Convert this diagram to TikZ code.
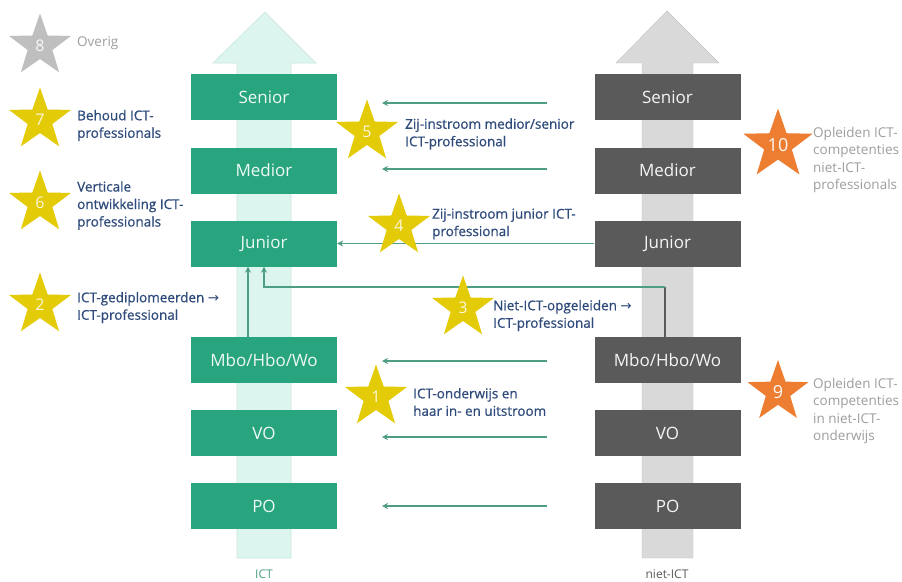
\documentclass[tikz,border=0pt]{standalone}
\usepackage{fontspec}
\setmainfont{Open Sans}
\newfontfamily\semifont[FakeBold=0.7]{Open Sans}
\newfontfamily\arrowfont{DejaVu Sans}
\usetikzlibrary{shapes.geometric,arrows.meta}
\definecolor{mint}{HTML}{DCF5EE}
\definecolor{mintline}{HTML}{C9E7DD}
\definecolor{boxgreen}{HTML}{28A57E}
\definecolor{boxgray}{HTML}{5A5A5A}
\definecolor{arrgray}{HTML}{D9D9D9}
\definecolor{conngreen}{HTML}{4E9E86}
\definecolor{staryellow}{HTML}{E3CB08}
\definecolor{starorange}{HTML}{ED7D31}
\definecolor{stargray}{HTML}{BFBFBF}
\definecolor{txtblue}{HTML}{2F4B7C}
\definecolor{txtgray}{HTML}{9E9E9E}
\newcommand{\ra}{{\arrowfont →}}
\tikzset{
  lvl/.style={rectangle, minimum width=146pt, minimum height=46pt, inner sep=0pt, font=\fontsize{17}{17}\selectfont},
  greenlvl/.style={lvl, fill=boxgreen, text=white!92!boxgreen},
  graylvl/.style={lvl, fill=boxgray, text=white!94!boxgray},
  starnode/.style={star, star points=5, star point ratio=2.5, minimum size=65pt, inner sep=0pt, text=white, font=\fontsize{16}{16}\selectfont},
  ystar/.style={starnode, fill=staryellow, text=white!85!staryellow},
  ostar/.style={starnode, fill=starorange, text=white!95!starorange, minimum size=71pt, font=\fontsize{18}{18}\selectfont},
  gstar/.style={starnode, fill=stargray, text=white!90!stargray},
  lbl/.style={align=left, anchor=west, inner sep=0pt, text=txtblue, font=\semifont\fontsize{13.5}{17.5}\selectfont},
  glbl/.style={align=left, anchor=west, inner sep=0pt, text=txtgray, font=\fontsize{13.5}{17.5}\selectfont},
  conn/.style={draw=conngreen, line width=1.8pt, -{Stealth[length=6pt,width=6pt]}},
}
\begin{document}
\begin{tikzpicture}[x=1pt,y=-1pt]
\useasboundingbox (0,0) rectangle (902,581);
\fill[white] (0,0) rectangle (902,581);
% big arrows
\filldraw[fill=mint, draw=mintline, line width=0.6pt]
  (237,558) -- (237,63) -- (213,63) -- (265,12) -- (316,63) -- (291,63) -- (291,558) -- cycle;
\filldraw[fill=arrgray, draw=arrgray!90!black, line width=0.4pt]
  (642,558) -- (642,63) -- (616,63) -- (667,11) -- (719,63) -- (693,63) -- (693,558) -- cycle;
\node[text=conngreen, font=\fontsize{12}{12}\selectfont] (ictlab) at (264,574) {ICT};
\node[text=boxgray, font=\fontsize{12}{12}\selectfont] (nietlab) at (667,574) {niet-ICT};
% green levels
\node[greenlvl] (sen) at (264,97) {Senior};
\node[greenlvl] (med) at (264,170.5) {Medior};
\node[greenlvl] (jun) at (264,243.5) {Junior};
\node[greenlvl] (mbo) at (264,360) {Mbo/Hbo/Wo};
\node[greenlvl] (vo) at (264,433) {VO};
\node[greenlvl] (po) at (264,506) {PO};
% gray levels
\node[graylvl] (gsen) at (667.5,97) {Senior};
\node[graylvl] (gmed) at (667.5,170.5) {Medior};
\node[graylvl] (gjun) at (667.5,243.5) {Junior};
\node[graylvl] (gmbo) at (667.5,360) {Mbo/Hbo/Wo};
\node[graylvl] (gvo) at (667.5,433) {VO};
\node[graylvl] (gpo) at (667.5,506) {PO};
% free arrows
\coordinate (a1s) at (547,103); \coordinate (a1e) at (382,103);
\coordinate (a2s) at (547,169); \coordinate (a2e) at (382,169);
\coordinate (a3s) at (547,361); \coordinate (a3e) at (382,361);
\coordinate (a4s) at (547,437); \coordinate (a4e) at (382,437);
\coordinate (a5s) at (547,506); \coordinate (a5e) at (382,506);
\foreach \i in {1,...,5} {\draw[conn] (a\i s) -- (a\i e);}
% junior inflow
\draw[conn] (gjun.west) -- (jun.east);
% ICT graduates
\draw[conn] ([xshift=-16pt]mbo.north) -- ([xshift=-16pt]jun.south);
% niet-ICT opgeleiden
\coordinate (k3r) at (665,287);
\coordinate (k3l) at (264,287);
\draw[draw=boxgray, line width=1.8pt] (gmbo.north -| k3r) -- (k3r);
\draw[conn] (k3r) -- (k3l) -- (jun.south);
% stars
\node[gstar] (s8) at (40,46) {8};
\node[ystar] (s7) at (40,120) {7};
\node[ystar] (s6) at (40,203) {6};
\node[ystar] (s2) at (40,305) {2};
\node[ystar] (s5) at (367,132) {5};
\node[ystar] (s4) at (399,226) {4};
\node[ystar] (s3) at (463,308) {3};
\node[ystar] (s1) at (376,397) {1};
\node[ostar] (s10) at (778,145) {10};
\node[ostar, minimum size=64pt] (s9) at (778,392) {9};
% labels
\node[glbl] (t8) at (77,43) {Overig};
\node[lbl] (t7) at (77,125.5) {Behoud ICT-\\professionals};
\node[lbl] (t6) at (77,205.5) {Verticale\\ontwikkeling ICT-\\professionals};
\node[lbl] (t2) at (77,307.5) {ICT-gediplomeerden \ra\\ICT-professional};
\node[lbl] (t5) at (405,134) {Zij-instroom medior/senior\\ICT-professional};
\node[lbl] (t4) at (432,224) {Zij-instroom junior ICT-\\professional};
\node[lbl] (t3) at (493,315.5) {Niet-ICT-opgeleiden \ra\\ICT-professional};
\node[lbl] (t1) at (413,402) {ICT-onderwijs en\\haar in- en uitstroom};
\node[glbl] (t10) at (813,160) {Opleiden ICT-\\competenties\\niet-ICT-\\professionals};
\node[glbl] (t9) at (813,411) {Opleiden ICT-\\competenties\\in niet-ICT-\\onderwijs};
\end{tikzpicture}
\end{document}
